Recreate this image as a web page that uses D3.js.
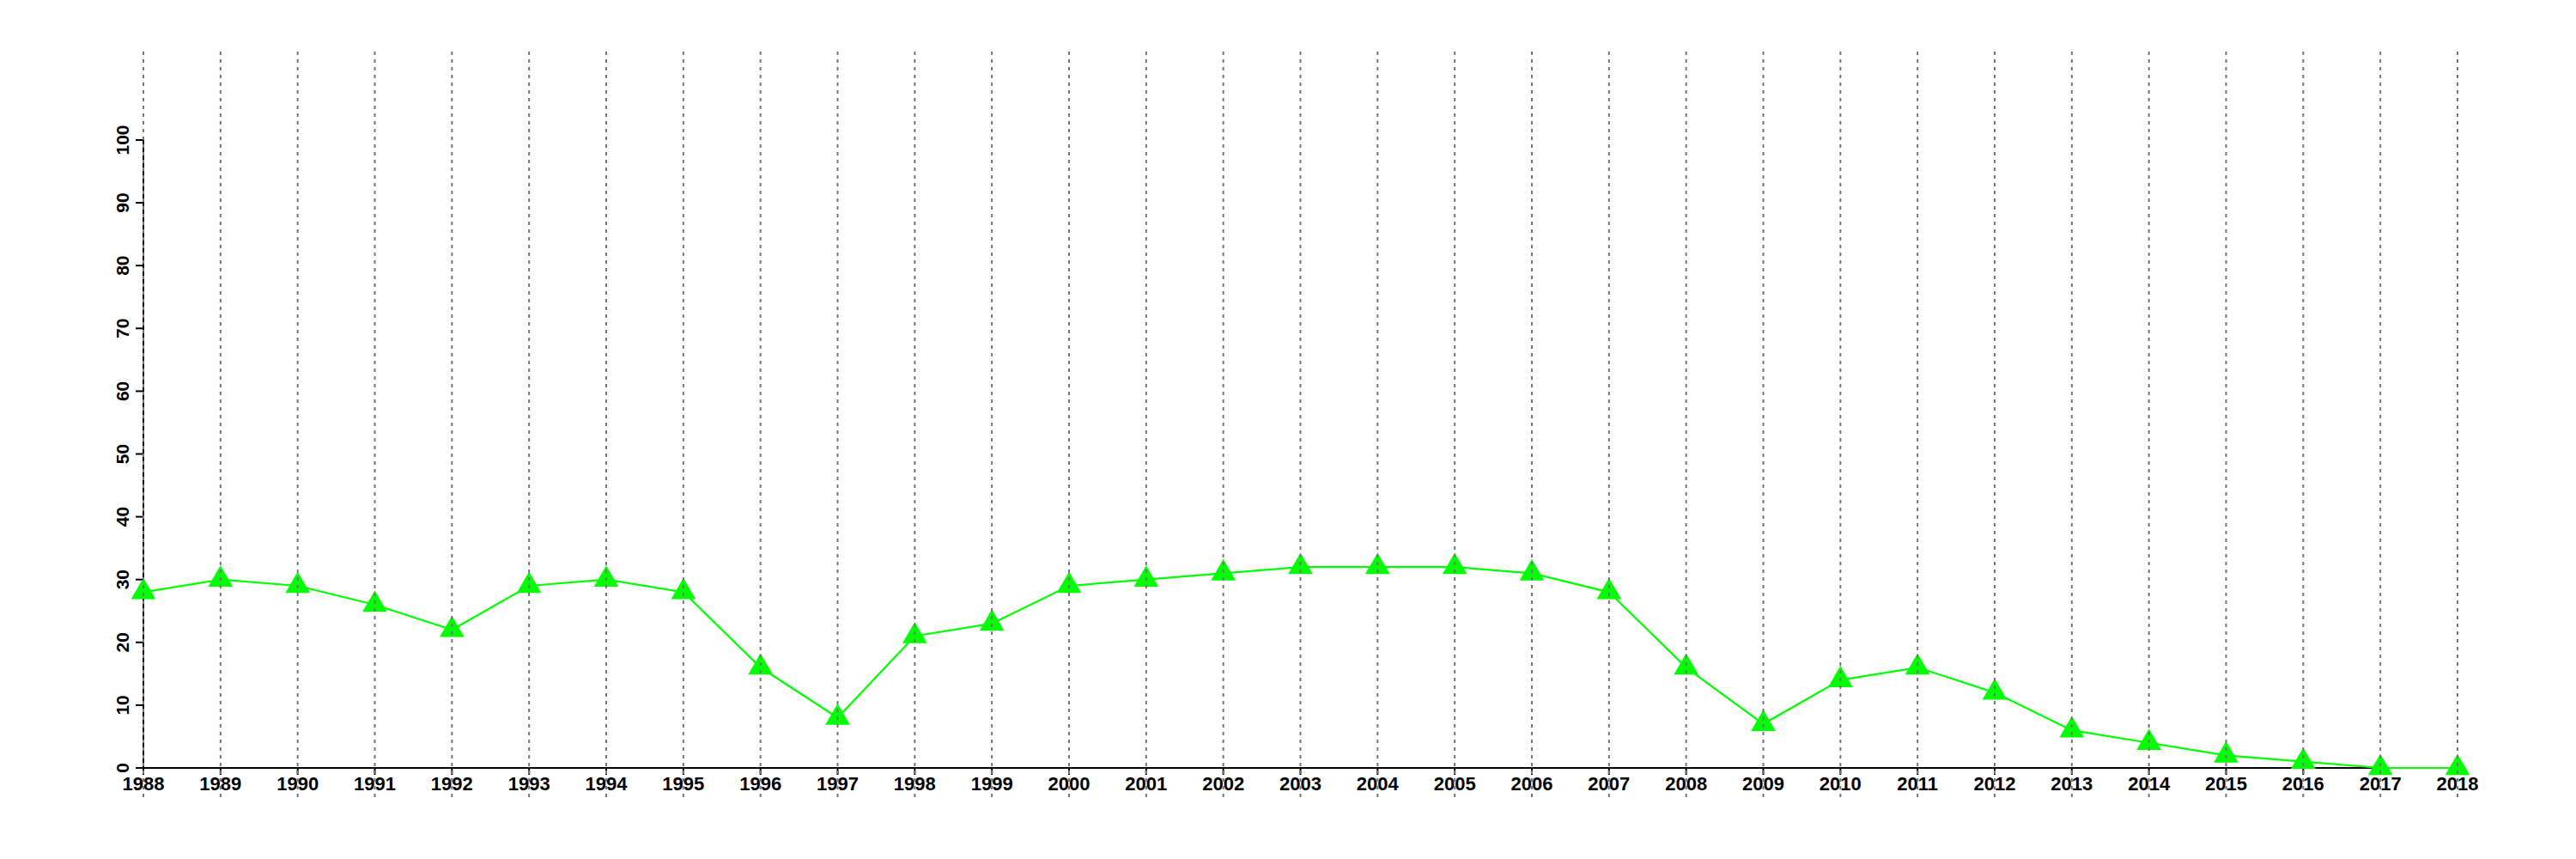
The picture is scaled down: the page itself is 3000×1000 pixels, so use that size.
<!DOCTYPE html>
<html>
<head>
<meta charset="utf-8">
<script src="https://cdn.jsdelivr.net/npm/d3@7"></script>
<style>
  html, body { margin: 0; padding: 0; background: #fff; }
  svg { display: block; }
  text { font-family: "Liberation Sans", Arial, Helvetica, sans-serif; font-weight: bold; }
</style>
</head>
<body>
<svg id="chart" width="3000" height="1000"></svg>
<script>
const years = [1988,1989,1990,1991,1992,1993,1994,1995,1996,1997,1998,1999,2000,2001,2002,2003,2004,2005,2006,2007,2008,2009,2010,2011,2012,2013,2014,2015,2016,2017,2018];
const values = [28,30,29,26,22,29,30,28,16,8,21,23,29,30,31,32,32,32,31,28,16,7,14,16,12,6,4,2,1,0,0];
const yTicks = [0,10,20,30,40,50,60,70,80,90,100];

const svg = d3.select("#chart");
const x = d3.scaleLinear().domain([1988, 2018]).range([167, 2862]);
const y = d3.scaleLinear().domain([0, 100]).range([894, 163]);

// Y axis
const yAxis = svg.append("g");
yAxis.append("line")
  .attr("x1", x(1988)).attr("x2", x(1988))
  .attr("y1", y(0)).attr("y2", y(100))
  .attr("stroke", "#000").attr("stroke-width", 2);
yAxis.selectAll("line.tick").data(yTicks).enter().append("line")
  .attr("class", "tick")
  .attr("x1", x(1988) - 9).attr("x2", x(1988))
  .attr("y1", d => y(d)).attr("y2", d => y(d))
  .attr("stroke", "#000").attr("stroke-width", 2);
yAxis.selectAll("text").data(yTicks).enter().append("text")
  .attr("transform", d => `translate(${x(1988) - 17},${y(d)}) rotate(-90)`)
  .attr("text-anchor", "middle")
  .attr("font-size", 21)
  .text(d => d);

// X axis
const xAxis = svg.append("g");
xAxis.append("line")
  .attr("x1", x(1988) - 9).attr("x2", x(2018))
  .attr("y1", y(0)).attr("y2", y(0))
  .attr("stroke", "#000").attr("stroke-width", 2);
xAxis.selectAll("line.tick").data(years).enter().append("line")
  .attr("class", "tick")
  .attr("x1", d => x(d)).attr("x2", d => x(d))
  .attr("y1", y(0)).attr("y2", y(0) + 8)
  .attr("stroke", "#000").attr("stroke-width", 2);
xAxis.selectAll("text").data(years).enter().append("text")
  .attr("x", d => x(d)).attr("y", 920)
  .attr("text-anchor", "middle")
  .attr("font-size", 22)
  .text(d => d);

// Line
const line = d3.line().x((d, i) => x(years[i])).y(d => y(d));
svg.append("path")
  .datum(values)
  .attr("d", line)
  .attr("fill", "none")
  .attr("stroke", "#00ff00")
  .attr("stroke-width", 2.2);

// Markers
const tri = d3.symbol().type(d3.symbolTriangle).size(356);
svg.selectAll("path.mark").data(values).enter().append("path")
  .attr("class", "mark")
  .attr("d", tri)
  .attr("transform", (d, i) => `translate(${x(years[i])},${y(d)})`)
  .attr("fill", "#00ff00");

// Vertical grid lines (drawn on top)
svg.append("g").selectAll("line").data(years).enter().append("line")
  .attr("x1", d => x(d)).attr("x2", d => x(d))
  .attr("y1", 60).attr("y2", 928)
  .attr("stroke", "#777")
  .attr("stroke-width", 2)
  .attr("stroke-dasharray", "4,5");
</script>
</body>
</html>
